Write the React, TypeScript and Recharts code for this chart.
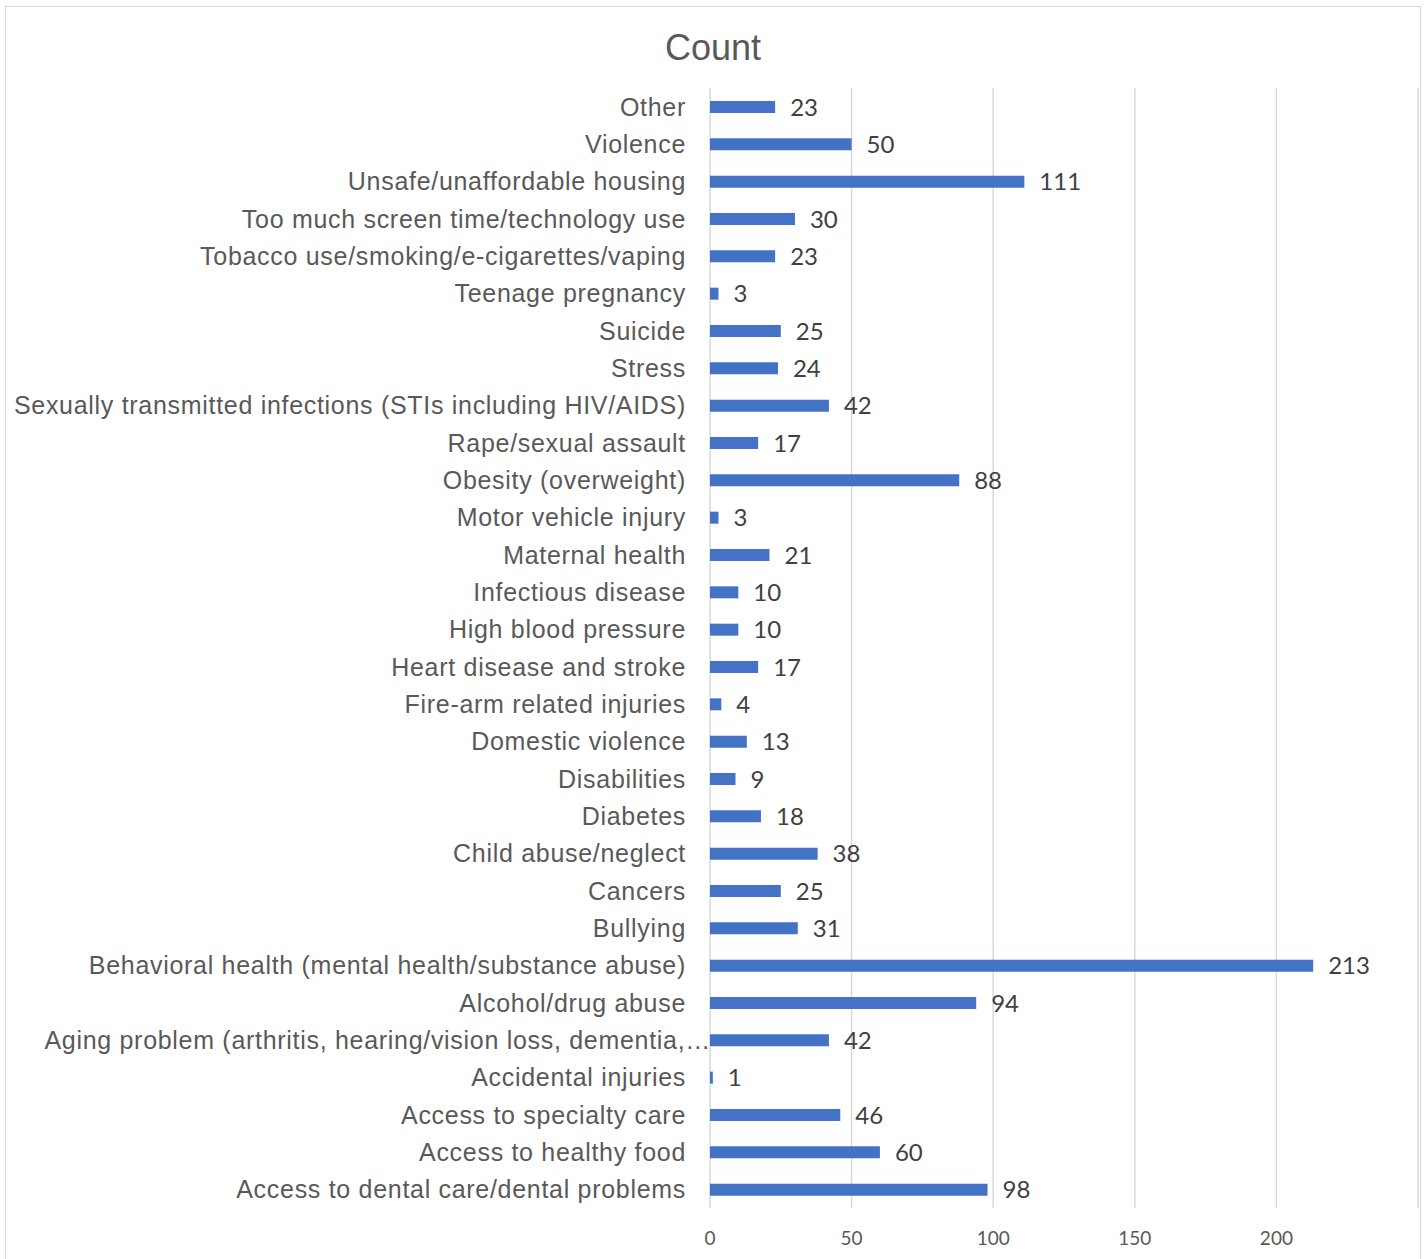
import { BarChart, Bar, XAxis, YAxis, CartesianGrid, LabelList } from 'recharts'

// Categorieën van boven naar beneden, zoals in de grafiek
const categories = [
  'Other',
  'Violence',
  'Unsafe/unaffordable housing',
  'Too much screen time/technology use',
  'Tobacco use/smoking/e-cigarettes/vaping',
  'Teenage pregnancy',
  'Suicide',
  'Stress',
  'Sexually transmitted infections (STIs including HIV/AIDS)',
  'Rape/sexual assault',
  'Obesity (overweight)',
  'Motor vehicle injury',
  'Maternal health',
  'Infectious disease',
  'High blood pressure',
  'Heart disease and stroke',
  'Fire-arm related injuries',
  'Domestic violence',
  'Disabilities',
  'Diabetes',
  'Child abuse/neglect',
  'Cancers',
  'Bullying',
  'Behavioral health (mental health/substance abuse)',
  'Alcohol/drug abuse',
  'Aging problem (arthritis, hearing/vision loss, dementia,…',
  'Accidental injuries',
  'Access to specialty care',
  'Access to healthy food',
  'Access to dental care/dental problems',
]

const counts = [
  23, 50, 111, 30, 23, 3, 25, 24, 42, 17, 88, 3, 21, 10, 10, 17, 4, 13, 9, 18,
  38, 25, 31, 213, 94, 42, 1, 46, 60, 98,
]

const xTicks = [0, 50, 100, 150, 200]

const data = categories.map((name, i) => ({ name, count: counts[i] }))

const W = 1428
const H = 1259

function CatTick({ y, payload }: any) {
  // afgekapte label loopt in Excel door tot de as
  const clipped = String(payload.value).endsWith('…')
  return (
    <text x={clipped ? 711 : 686} y={y} dy={9} textAnchor="end" fill="#595959"
      style={{ fontFamily: '"Liberation Sans", Arial, sans-serif', fontSize: 25, letterSpacing: 0.7 }}>
      {payload.value}
    </text>
  )
}

function NumTick({ x, payload }: any) {
  return (
    <text x={x} y={1245} textAnchor="middle" fill="#595959"
      style={{ fontFamily: 'Lato, "Open Sans", sans-serif', fontSize: 19 }}>
      {payload.value}
    </text>
  )
}

export default function App() {
  return (
    <div style={{ position: 'absolute', left: 0, top: 0, width: W, height: H, background: '#fff', overflow: 'hidden' }}>
      <div style={{ position: 'absolute', left: 5, top: 6, width: 1414, height: 1300,
        borderLeft: '1px solid #d9d9d9', borderTop: '1px solid #d9d9d9', borderRight: '1px solid #d9d9d9' }} />
      <div style={{ position: 'absolute', left: 0, top: 27, width: 1426, textAlign: 'center',
        fontFamily: '"Liberation Sans", Arial, sans-serif', fontSize: 36, color: '#595959' }}>
        Count
      </div>
      <div style={{ position: 'absolute', left: 0, top: 0 }}>
        <BarChart width={W} height={H} data={data} layout="vertical"
          margin={{ top: 88, right: 10, bottom: 11, left: 0 }} barSize={12}>
          <CartesianGrid horizontal={false} stroke="#d9d9d9" strokeWidth={1.5} />
          <XAxis type="number" domain={[0, 250]} ticks={xTicks} height={40}
            axisLine={false} tickLine={false} tick={<NumTick />} interval={0} />
          <YAxis type="category" dataKey="name" width={710} axisLine={false}
            tickLine={false} tick={<CatTick />} interval={0} />
          <Bar dataKey="count" fill="#4472c4" isAnimationActive={false}>
            <LabelList dataKey="count" position="right" offset={15} fill="#404040"
              style={{ fontFamily: 'Lato, "Open Sans", sans-serif', fontSize: 24 }} />
          </Bar>
        </BarChart>
      </div>
    </div>
  )
}
